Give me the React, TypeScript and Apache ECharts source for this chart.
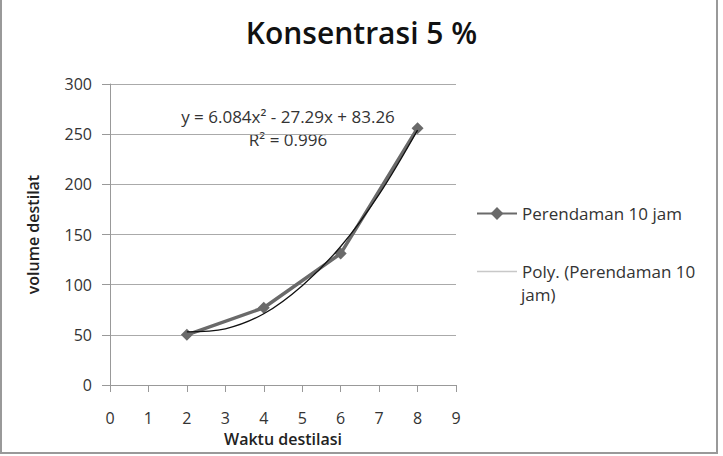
import React, { useEffect, useRef } from "react";
import * as echarts from "echarts";

const chartTitle = "Konsentrasi 5 %";
const seriesName = "Perendaman 10 jam";
const trendName = "Poly. (Perendaman 10 jam)";
const xAxisName = "Waktu destilasi";
const yAxisName = "volume destilat";
const equationText = "y = 6.084x² - 27.29x + 83.26";
const r2Text = "R² = 0.996";

// measured points
const waktu = [2, 4, 6, 8];
const volume = [50, 77, 131, 256];

// trendline
const trendX = [2, 3, 4, 5, 6, 7, 8];
const trendY = [53, 56, 71, 99, 138, 190, 254];

const FONT = "Open Sans";

export default function App() {
  const ref = useRef<HTMLDivElement>(null);
  useEffect(() => {
    if (!ref.current) return;
    const chart = echarts.init(ref.current, null, { renderer: "svg" });
    chart.setOption({
      animation: false,
      backgroundColor: "#fff",
      textStyle: { fontFamily: FONT },
      title: {
        text: chartTitle,
        left: "center",
        top: 12,
        textStyle: { fontFamily: FONT, fontSize: 30, fontWeight: 600, color: "#111" },
      },
      grid: { left: 110, right: 267, top: 84, bottom: 71, containLabel: false },
      legend: {
        show: true,
        orient: "vertical",
        left: 476,
        top: 205,
        padding: 0,
        itemWidth: 40,
        itemHeight: 16,
        itemGap: 41,
        textStyle: { fontFamily: FONT, fontSize: 17, color: "#333" },
        formatter: (name: string) => (name === trendName ? "Poly. (Perendaman 10" : name),
        data: [
          seriesName,
          {
            name: trendName,
            itemStyle: { color: "#ccc", opacity: 0, borderWidth: 0 },
            lineStyle: { color: "#c8c8c8", width: 1.5, opacity: 1 },
          },
        ],
      },
      xAxis: {
        type: "value",
        min: 0,
        max: 9,
        interval: 1,
        name: xAxisName,
        nameLocation: "middle",
        nameGap: 42,
        nameTextStyle: { fontFamily: FONT, fontSize: 16, fontWeight: 600, color: "#222" },
        axisLine: { show: true, lineStyle: { color: "#999", width: 1 } },
        axisTick: { show: true, inside: false, length: 7, lineStyle: { color: "#999" } },
        axisLabel: { margin: 25, fontSize: 16, color: "#333", fontFamily: FONT },
        splitLine: { show: false },
      },
      yAxis: {
        type: "value",
        min: 0,
        max: 300,
        interval: 50,
        name: yAxisName,
        nameLocation: "middle",
        nameGap: 69,
        nameRotate: 90,
        nameTextStyle: { fontFamily: FONT, fontSize: 16, fontWeight: 600, color: "#222" },
        axisLine: { show: true, lineStyle: { color: "#999", width: 1 } },
        axisTick: { show: true, inside: false, length: 8, lineStyle: { color: "#999" } },
        axisLabel: { margin: 18, fontSize: 16, color: "#333", fontFamily: FONT },
        splitLine: { show: true, lineStyle: { color: "#aaa", width: 1 } },
      },
      series: [
        {
          name: seriesName,
          type: "line",
          data: waktu.map((x, i) => [x, volume[i]]),
          symbol: "diamond",
          symbolSize: 12,
          lineStyle: { color: "#6a6a6a", width: 3.5 },
          itemStyle: { color: "#6a6a6a" },
          z: 2,
        },
        {
          name: trendName,
          type: "line",
          data: trendX.map((x, i) => [x, trendY[i]]),
          smooth: 0.35,
          showSymbol: false,
          symbol: "none",
          lineStyle: { color: "#111", width: 1.3 },
          itemStyle: { color: "#ccc" },
          z: 3,
        },
      ],
      graphic: [
        {
          type: "text",
          x: 288,
          y: 108,
          style: { text: equationText, fontFamily: FONT, fontSize: 17, fill: "#333", align: "center" },
        },
        {
          type: "text",
          x: 288,
          y: 131,
          style: { text: r2Text, fontFamily: FONT, fontSize: 17, fill: "#333", align: "center" },
        },
        {
          type: "text",
          x: 521,
          y: 286,
          style: { text: "jam)", fontFamily: FONT, fontSize: 17, fill: "#333" },
        },
        {
          type: "rect",
          shape: { x: 1, y: -2, width: 716, height: 455 },
          style: { fill: "none", stroke: "#999", lineWidth: 2 },
          silent: true,
        },
      ],
    });
    return () => chart.dispose();
  }, []);
  return (
    <div
      ref={ref}
      style={{ position: "absolute", left: 0, top: 0, width: 723, height: 456 }}
    />
  );
}
